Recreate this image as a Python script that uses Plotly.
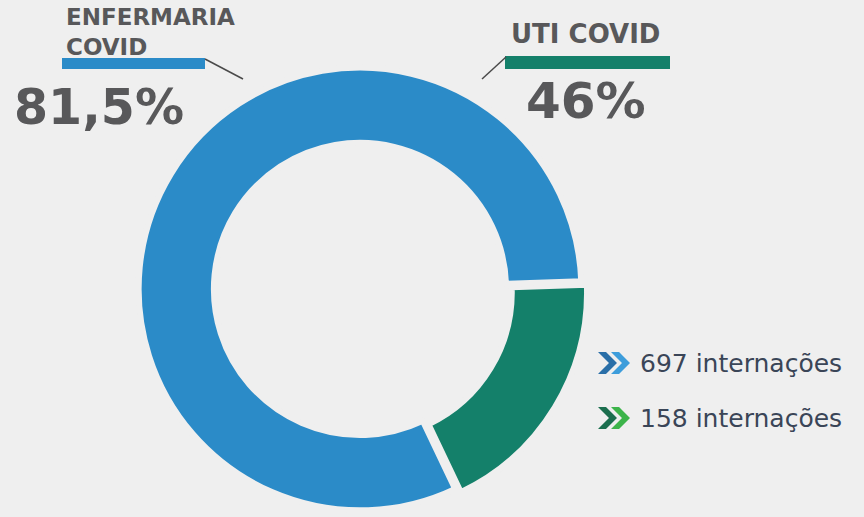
import plotly.graph_objects as go

# ---- data ----
categories = ["UTI COVID", "ENFERMARIA COVID"]
internacoes = [158, 697]
ocupacao_labels = ["46%", "81,5%"]
legend_texts = ["697 internações", "158 internações"]

W, H = 864, 517
BG = "#efefef"
BLUE = "#2b8bc8"
GREEN = "#14806a"
GRAY = "#58585a"
SLATE = "#3a4557"


def px(x):
    return x / W


def py(y):
    return 1 - y / H


fig = go.Figure()
fig.add_trace(go.Pie(
    labels=categories,
    values=internacoes,
    sort=False,
    direction="clockwise",
    rotation=88,
    hole=0.66,
    pull=[0.03, 0],
    marker=dict(colors=[GREEN, BLUE], line=dict(color=BG, width=6)),
    textinfo="none",
    hoverinfo="label+value",
    showlegend=False,
    domain=dict(x=[px(131), px(589)], y=[0, py(61)]),
))

shapes = []
annotations = []

# ENFERMARIA COVID label block
annotations.append(dict(x=px(64), y=py(32), text="<b>ENFERMARIA<br>COVID</b>", showarrow=False,
                        xanchor="left", yanchor="middle", align="left",
                        font=dict(family="DejaVu Sans", size=23, color=GRAY)))
shapes.append(dict(type="rect", xref="paper", yref="paper", x0=px(62), x1=px(205),
                   y0=py(69), y1=py(58), fillcolor=BLUE, line=dict(width=0)))
shapes.append(dict(type="line", xref="paper", yref="paper", x0=px(205), y0=py(59),
                   x1=px(243), y1=py(79), line=dict(color="#4a4a4a", width=1.5)))
annotations.append(dict(x=px(12), y=py(107), text="<b>" + ocupacao_labels[1] + "</b>",
                        showarrow=False, xanchor="left", yanchor="middle",
                        font=dict(family="DejaVu Sans", size=49, color=GRAY)))

# UTI COVID label block
annotations.append(dict(x=px(585), y=py(34), text="<b>UTI COVID</b>", showarrow=False,
                        xanchor="center", yanchor="middle",
                        font=dict(family="DejaVu Sans", size=26, color=GRAY)))
shapes.append(dict(type="rect", xref="paper", yref="paper", x0=px(505), x1=px(670),
                   y0=py(69), y1=py(56), fillcolor=GREEN, line=dict(width=0)))
shapes.append(dict(type="line", xref="paper", yref="paper", x0=px(506), y0=py(57),
                   x1=px(482), y1=py(79), line=dict(color="#4a4a4a", width=1.5)))
annotations.append(dict(x=px(586), y=py(101), text="<b>" + ocupacao_labels[0] + "</b>",
                        showarrow=False, xanchor="center", yanchor="middle",
                        font=dict(family="DejaVu Sans", size=50, color=GRAY)))


# chevron markers
def chevron(x0, yc, h, t, color):
    half = h / 2
    pts = [(x0, yc - half), (x0 + t, yc - half), (x0 + t + half, yc),
           (x0 + t, yc + half), (x0, yc + half), (x0 + half, yc)]
    path = "M " + " L ".join(f"{px(x):.5f},{py(y):.5f}" for x, y in pts) + " Z"
    return dict(type="path", xref="paper", yref="paper", path=path,
                fillcolor=color, line=dict(width=0))


rows = [(363, "#2a6fa8", "#3d9ddb"), (418, "#1b6e4e", "#3cb44a")]
for (yc, c1, c2), txt in zip(rows, legend_texts):
    shapes.append(chevron(598, yc, 22, 8, c1))
    shapes.append(chevron(611, yc, 22, 8, c2))
    annotations.append(dict(x=px(638), y=py(yc), text=txt, showarrow=False,
                            xanchor="left", yanchor="middle",
                            font=dict(family="DejaVu Sans", size=25, color=SLATE)))

fig.update_layout(
    width=W, height=H,
    margin=dict(l=0, r=0, t=0, b=0),
    paper_bgcolor=BG, plot_bgcolor=BG,
    shapes=shapes, annotations=annotations,
)

fig.write_html("out.html",
               config={"displayModeBar": False},
               post_script="document.body.style.margin='0';document.body.style.background='" + BG + "';")
